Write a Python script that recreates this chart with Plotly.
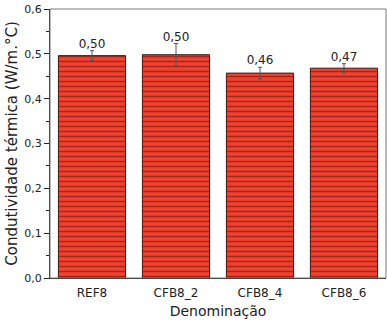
import plotly.graph_objects as go

categories = ["REF8", "CFB8_2", "CFB8_4", "CFB8_6"]
values = [0.496, 0.498, 0.457, 0.468]
errors = [0.011, 0.025, 0.013, 0.010]
labels = [f"{v:.2f}".replace(".", ",") for v in values]
y_ticks = [0.0, 0.1, 0.2, 0.3, 0.4, 0.5, 0.6]

font = "DejaVu Sans"

fig = go.Figure()
fig.add_trace(go.Bar(
    x=categories, y=values, width=0.8,
    marker=dict(
        color="#F5402E",
        line=dict(color="#3a1a14", width=1),
        pattern=dict(shape="-", fillmode="replace", fgcolor="#9E2A1F",
                     bgcolor="#F5402E", size=5, solidity=0.3),
    ),
    error_y=dict(type="data", array=errors, color="#555555", thickness=1, width=2),
    showlegend=False,
))
fig.add_trace(go.Scatter(
    x=categories, y=[v + e for v, e in zip(values, errors)],
    mode="text", text=labels, textposition="top center",
    textfont=dict(family=font, size=12, color="#222"),
    showlegend=False, cliponaxis=False,
))
fig.add_shape(type="rect", xref="paper", yref="paper", x0=0, x1=1, y0=0, y1=1,
              line=dict(color="#777777", width=1), layer="above")
fig.update_layout(
    width=387, height=325,
    margin=dict(l=50, r=1, t=9, b=47),
    plot_bgcolor="white", paper_bgcolor="white",
    separators=",.",
    bargap=0.2,
    font=dict(family=font, color="#222"),
    xaxis=dict(
        showgrid=False, showline=True, linecolor="#222", linewidth=1,
        ticks="outside", ticklen=4, tickcolor="rgba(0,0,0,0)",
        tickfont=dict(size=12, family=font),
        title=dict(text="Denominação", font=dict(size=14, family=font), standoff=6),
    ),
    yaxis=dict(
        range=[0, 0.6], tickvals=y_ticks, tickformat=".1f",
        showgrid=False, zeroline=False, showline=True, linecolor="#222", linewidth=1,
        ticks="outside", ticklen=5, tickcolor="#222",
        minor=dict(tickvals=[0.05, 0.15, 0.25, 0.35, 0.45, 0.55], ticks="outside", ticklen=3, tickcolor="#222"),
        tickfont=dict(size=11, family=font),
        title=dict(text="Condutividade térmica (W/m.°C)", font=dict(size=15, family=font), standoff=3),
    ),
)
fig.write_html("out.html")
